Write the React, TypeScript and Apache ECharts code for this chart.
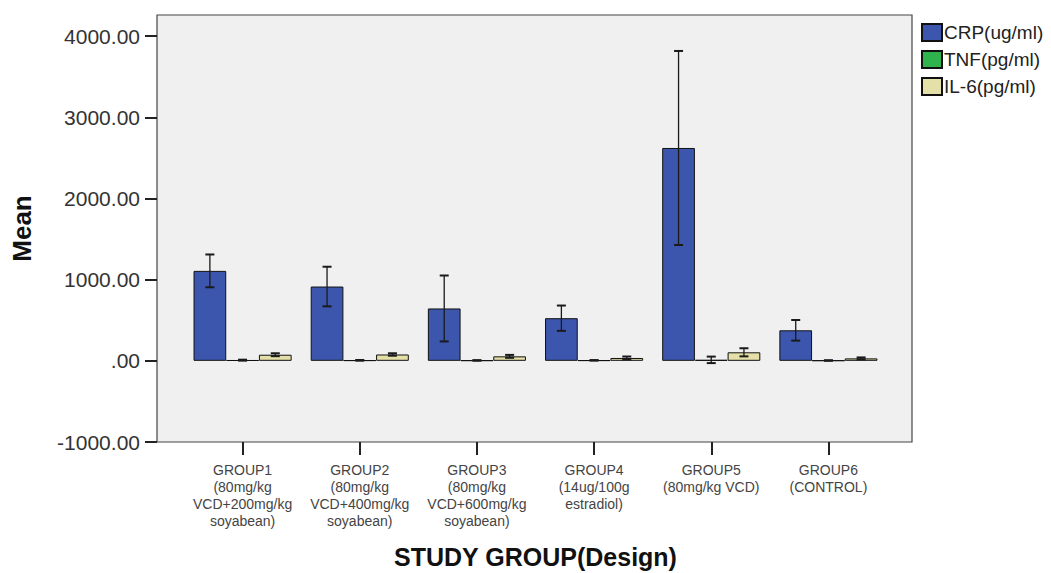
import React, { useEffect, useRef } from "react";
import * as echarts from "echarts";

const categories = [
  "GROUP1\n(80mg/kg\nVCD+200mg/kg\nsoyabean)",
  "GROUP2\n(80mg/kg\nVCD+400mg/kg\nsoyabean)",
  "GROUP3\n(80mg/kg\nVCD+600mg/kg\nsoyabean)",
  "GROUP4\n(14ug/100g\nestradiol)",
  "GROUP5\n(80mg/kg VCD)",
  "GROUP6\n(CONTROL)",
];
const seriesNames = ["CRP(ug/ml)", "TNF(pg/ml)", "IL-6(pg/ml)"];
const crp = [1108, 915, 645, 525, 2622, 376];
const crpErr = [202, 244, 406, 156, 1195, 127];
const tnf = [8, 6, 5, 6, 12, 4];
const tnfErr = [6, 4, 3, 3, 40, 3];
const il6 = [75, 78, 55, 35, 105, 30];
const il6Err = [18, 15, 18, 18, 50, 12];
const yTicks = [-1000, 0, 1000, 2000, 3000, 4000];
const colors = ["#3C56AD", "#2FB34C", "#E4E0A8"];

const FONT = "'Liberation Sans', Arial, sans-serif";
const BAR_W = 32.7;

export default function App() {
  const ref = useRef<HTMLDivElement>(null);
  useEffect(() => {
    if (!ref.current) return;
    const chart = echarts.init(ref.current, null, { renderer: "svg" });
    const values = [crp, tnf, il6];
    const errs = [crpErr, tnfErr, il6Err];
    const barSeries = seriesNames.map((name, i) => ({
      name,
      type: "bar",
      data: values[i],
      barWidth: BAR_W,
      barGap: "0%",
      itemStyle: { color: colors[i], borderColor: "#111", borderWidth: 1 },
      z: 2,
    }));
    const errSeries = seriesNames.map((name, i) => ({
      name: name + "_err",
      type: "custom",
      coordinateSystem: "cartesian2d",
      z: 5,
      silent: true,
      encode: { x: 0, y: [1, 2] },
      data: values[i].map((v, k) => [k, v - errs[i][k], v + errs[i][k]]),
      renderItem: (params: any, api: any) => {
        const idx = api.value(0);
        const off = (i - 1) * BAR_W;
        const lo = api.coord([idx, api.value(1)]);
        const hi = api.coord([idx, api.value(2)]);
        const x = lo[0] + off;
        const cap = 4.5;
        const style = { stroke: "#1a1a1a", lineWidth: 1.3 };
        return {
          type: "group",
          children: [
            { type: "line", shape: { x1: x, y1: lo[1], x2: x, y2: hi[1] }, style },
            { type: "line", shape: { x1: x - cap, y1: lo[1], x2: x + cap, y2: lo[1] }, style: { stroke: "#1a1a1a", lineWidth: 2 } },
            { type: "line", shape: { x1: x - cap, y1: hi[1], x2: x + cap, y2: hi[1] }, style: { stroke: "#1a1a1a", lineWidth: 2 } },
          ],
        };
      },
    }));
    chart.setOption({
      animation: false,
      backgroundColor: "#ffffff",
      textStyle: { fontFamily: FONT },
      graphic: [
        {
          type: "rect",
          z: -10,
          shape: { x: 157, y: 15, width: 755, height: 427 },
          style: { fill: "#F0F0F0", stroke: "#444", lineWidth: 1.2 },
        },
      ],
      legend: {
        orient: "vertical",
        left: 916,
        top: 18,
        itemWidth: 20,
        itemHeight: 17,
        itemGap: 8,
        icon: "rect",
        data: seriesNames,
        textStyle: { fontFamily: FONT, fontSize: 19, color: "#222", padding: [0, 0, 0, -3] },
      },
      grid: { left: 184, right: 164, top: 15, bottom: 131, outerBoundsMode: "none", containLabel: false },
      xAxis: {
        type: "category",
        data: categories,
        axisLine: { show: false, onZero: false },
        axisTick: { show: true, alignWithLabel: true, length: 13, lineStyle: { color: "#222", width: 2 } },
        axisLabel: {
          interval: 0,
          margin: 19,
          fontFamily: FONT,
          fontSize: 14,
          lineHeight: 17,
          color: "#444",
          align: "center",
        },
        name: "STUDY GROUP(Design)",
        nameLocation: "middle",
        nameGap: 102,
        nameTextStyle: { fontFamily: FONT, fontSize: 25, fontWeight: "bold", color: "#111" },
      },
      yAxis: {
        type: "value",
        min: -1000,
        max: 4260,
        offset: 27,
        splitLine: { show: false },
        axisLine: { show: false },
        axisTick: { show: true, length: 12, customValues: yTicks, lineStyle: { color: "#222", width: 2 } },
        axisLabel: {
          customValues: yTicks,
          margin: 17,
          fontFamily: FONT,
          fontSize: 21,
          color: "#333",
          formatter: (v: number) => (v === 0 ? ".00" : v.toFixed(2)),
        },
        name: "Mean",
        nameLocation: "middle",
        nameGap: 122,
        nameRotate: 90,
        nameTextStyle: { fontFamily: FONT, fontSize: 26, fontWeight: "bold", color: "#111" },
      },
      series: [...barSeries, ...errSeries],
    });
    return () => chart.dispose();
  }, []);
  return (
    <div
      ref={ref}
      style={{ position: "fixed", left: 0, top: 0, width: 1051, height: 573 }}
    />
  );
}
